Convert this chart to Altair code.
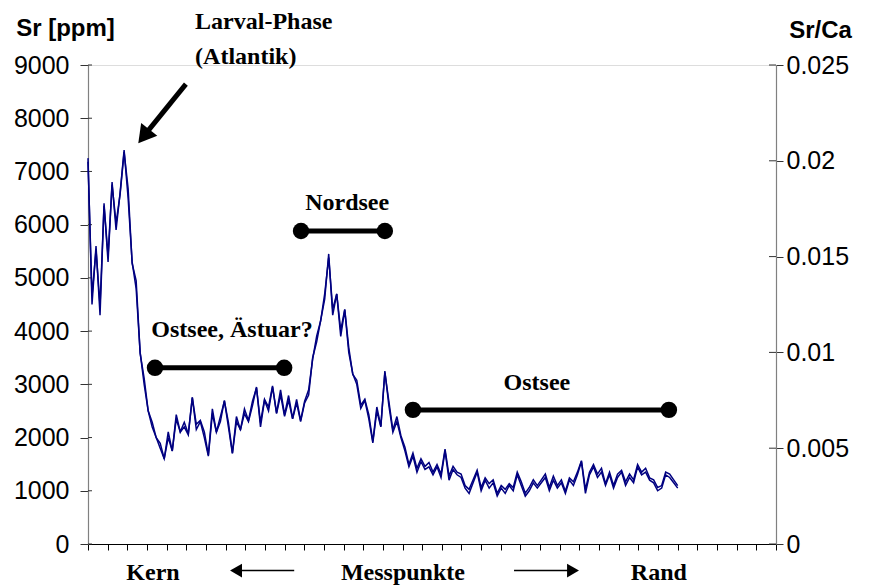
import altair as alt
import pandas as pd

# Sr concentration (ppm), left axis
sr_ppm = [
    7250, 4500, 5600, 4300, 6400, 5300, 6800, 5900, 6600, 7400,
    6500, 5300, 4800, 3600, 3000, 2500, 2200, 2000, 1800, 1600,
    2000, 1750, 2350, 2100, 2200, 2050, 2750, 2150, 2300, 2000,
    1650, 2450, 2100, 2300, 2700, 2200, 1700, 2300, 2150, 2450,
    2300, 2600, 2950, 2200, 2700, 2500, 2950, 2450, 2800, 2400,
    2700, 2350, 2650, 2300, 2650, 2800, 3500, 3800, 4200, 4600,
    5450, 4300, 4700, 3900, 4400, 3600, 3200, 3000, 2550, 2700,
    2350, 1900, 2500, 2200, 3250, 2600, 2100, 2300, 2000, 1750,
    1450, 1650, 1350, 1550, 1400, 1450, 1300, 1450, 1250, 1750,
    1200, 1400, 1300, 1250, 1050, 950, 1150, 1350, 1000, 1200,
    1050, 1150, 900, 1050, 950, 1100, 1000, 1300, 1100, 900,
    1000, 1150, 1050, 1150, 1250, 1000, 1200, 1050, 1150, 950,
    1200, 1100, 1300, 1550, 950, 1300, 1450, 1250, 1350, 1100,
    1300, 1050, 1250, 1350, 1100, 1250, 1150, 1450, 1300, 1350,
    1200, 1150, 1000, 1050, 1300, 1250, 1150, 1050,
]

# Sr/Ca ratio, right axis
sr_ca = [
    0.01995, 0.01295, 0.01535, 0.01245, 0.01765, 0.01505, 0.01875, 0.01675, 0.01825, 0.02045,
    0.01855, 0.01465, 0.01375, 0.00995, 0.00865, 0.00695, 0.00635, 0.00555, 0.00525, 0.00445,
    0.00585, 0.00485, 0.00675, 0.00585, 0.00635, 0.00575, 0.00765, 0.00625, 0.00645, 0.00585,
    0.00465, 0.00705, 0.00585, 0.00665, 0.00745, 0.00635, 0.00475, 0.00665, 0.00595, 0.00705,
    0.00645, 0.00745, 0.00815, 0.00635, 0.00755, 0.00715, 0.00825, 0.00685, 0.00805, 0.00675,
    0.00775, 0.00655, 0.00755, 0.00645, 0.00745, 0.00805, 0.00965, 0.01085, 0.01165, 0.01305,
    0.01495, 0.01225, 0.01305, 0.01115, 0.01225, 0.01025, 0.00885, 0.00855, 0.00725, 0.00755,
    0.00675, 0.00535, 0.00715, 0.00615, 0.00895, 0.00745, 0.00595, 0.00665, 0.00565, 0.00505,
    0.00415, 0.00475, 0.00395, 0.00445, 0.00405, 0.00425, 0.00375, 0.00415, 0.00365, 0.00495,
    0.00355, 0.00405, 0.00375, 0.00365, 0.00305, 0.00285, 0.00335, 0.00385, 0.00295, 0.00345,
    0.00315, 0.00335, 0.00265, 0.00305, 0.00285, 0.00315, 0.00295, 0.00375, 0.00325, 0.00265,
    0.00295, 0.00335, 0.00305, 0.00335, 0.00365, 0.00295, 0.00355, 0.00305, 0.00335, 0.00275,
    0.00345, 0.00325, 0.00375, 0.00435, 0.00285, 0.00375, 0.00415, 0.00365, 0.00395, 0.00315,
    0.00375, 0.00305, 0.00365, 0.00385, 0.00325, 0.00365, 0.00335, 0.00415, 0.00375, 0.00395,
    0.00345, 0.00335, 0.00295, 0.00305, 0.00375, 0.00365, 0.00335, 0.00305,
]

left_ticks = [0, 1000, 2000, 3000, 4000, 5000, 6000, 7000, 8000, 9000]
right_ticks = [0, 0.005, 0.01, 0.015, 0.02, 0.025]

# Annotation texts (Times bold)
ann_text = ["Larval-Phase", "(Atlantik)", "Nordsee", "Ostsee, Ästuar?", "Ostsee"]
ann_x = [26.7, 26.7, 64.6, 35.9, 111.9]
ann_y = [9800, 9150, 6410, 4020, 3030]
ann_align = ["left", "left", "center", "center", "center"]

# Bottom labels
bot_text = ["Kern", "Messpunkte", "Rand"]
bot_x = [16.2, 78.5, 142.3]
bot_y = [-540, -540, -540]

# Horizontal bars with dots
bar_x1 = [53.1, 16.7, 81.0]
bar_x2 = [74.0, 48.9, 144.8]
bar_y = [5880, 3310, 2520]

n = len(sr_ppm)
df = pd.DataFrame({"i": list(range(n)), "sr": sr_ppm, "srca": sr_ca})

X_MAX = (n - 1) * 35 / 30
x_tick_vals = [k * X_MAX / 35 for k in range(36)]
xscale = alt.Scale(domain=[0, X_MAX], nice=False, zero=False)
yscale = alt.Scale(domain=[0, 9000], nice=False)
rscale = alt.Scale(domain=[0, 0.025], nice=False)

LABEL_FONT = "Liberation Sans"
LBL_SIZE = 25

x_axis = alt.Axis(values=x_tick_vals, labels=False, title=None, grid=False,
                  tickSize=6, tickColor="black", domainColor="black",
                  domainWidth=1.2, tickWidth=1)
y_axis = alt.Axis(values=left_ticks, format="d", grid=False,
                  title="Sr [ppm]", titleAngle=0, titleX=-23, titleY=-37,
                  titleAlign="center", titleBaseline="middle",
                  titleFont=LABEL_FONT, titleFontSize=24,
                  titleFontWeight="bold", titleColor="black",
                  labelFont=LABEL_FONT, labelFontSize=LBL_SIZE,
                  labelColor="black", labelPadding=11, tickSize=8,
                  tickColor="#333333", domainColor="#808080", domainWidth=1.2)
r_axis = alt.Axis(orient="right", values=right_ticks, format="~g", grid=False,
                  title="Sr/Ca", titleAngle=0, titleX=44, titleY=-35,
                  titleAlign="center", titleBaseline="middle",
                  titleFont=LABEL_FONT, titleFontSize=24,
                  titleFontWeight="bold", titleColor="black",
                  labelFont=LABEL_FONT, labelFontSize=LBL_SIZE,
                  labelColor="black", labelPadding=3, tickSize=7,
                  tickColor="#333333", domainColor="#808080", domainWidth=1.2)


def X(field):
    return alt.X(field, scale=xscale, axis=x_axis)


def Y(field):
    return alt.Y(field, scale=yscale, axis=y_axis)


def R(field):
    return alt.Y(field, scale=rscale, axis=r_axis)


LINE_COLOR = "#000080"

left_line = alt.Chart(df).mark_line(color=LINE_COLOR, strokeWidth=1.5).encode(
    x=X("i:Q"), y=Y("sr:Q"))

ann_df = pd.DataFrame({"x": ann_x, "y": ann_y, "t": ann_text, "a": ann_align})
ann_left = alt.Chart(ann_df[ann_df.a == "left"]).mark_text(
    font="Liberation Serif", fontWeight="bold", fontSize=24, align="left",
    baseline="middle", color="black").encode(x=X("x:Q"), y=Y("y:Q"), text="t:N")
ann_center = alt.Chart(ann_df[ann_df.a == "center"]).mark_text(
    font="Liberation Serif", fontWeight="bold", fontSize=24, align="center",
    baseline="middle", color="black").encode(x=X("x:Q"), y=Y("y:Q"), text="t:N")

bot_df = pd.DataFrame({"x": bot_x, "y": bot_y, "t": bot_text})
bot = alt.Chart(bot_df).mark_text(
    font="Liberation Serif", fontWeight="bold", fontSize=24, align="center",
    baseline="middle", color="black").encode(x=X("x:Q"), y=Y("y:Q"), text="t:N")

bar_df = pd.DataFrame({"x1": bar_x1, "x2": bar_x2, "y": bar_y})
bars = alt.Chart(bar_df).mark_rule(color="black", strokeWidth=5).encode(
    x=X("x1:Q"), x2="x2:Q", y=Y("y:Q"))
dots_df = pd.DataFrame({"x": bar_x1 + bar_x2, "y": bar_y + bar_y})
dots = alt.Chart(dots_df).mark_circle(color="black", size=270, opacity=1).encode(
    x=X("x:Q"), y=Y("y:Q"))

# Arrows: shafts and heads
shaft_df = pd.DataFrame({
    "x1": [24.4, 37.9, 106.2], "x2": [14.5, 51.4, 120.2],
    "y1": [8640, -500, -500], "y2": [7720, -500, -500]})
shafts_thick = alt.Chart(shaft_df.iloc[:1]).mark_rule(color="black", strokeWidth=5).encode(
    x=X("x1:Q"), x2="x2:Q", y=Y("y1:Q"), y2="y2:Q")
shafts_thin = alt.Chart(shaft_df.iloc[1:]).mark_rule(color="black", strokeWidth=1.5).encode(
    x=X("x1:Q"), x2="x2:Q", y=Y("y1:Q"), y2="y2:Q")
head_big = alt.Chart(pd.DataFrame({"x": [13.9], "y": [7660], "ang": [218]})).mark_point(
    shape="triangle-up", filled=True, color="black", opacity=1, size=420).encode(
    x=X("x:Q"), y=Y("y:Q"), angle=alt.Angle("ang:Q", scale=None))
head_small = alt.Chart(pd.DataFrame({"x": [36.9, 120.9], "y": [-500, -500], "ang": [270, 90]})).mark_point(
    shape="triangle-up", filled=True, color="black", opacity=1, size=190).encode(
    x=X("x:Q"), y=Y("y:Q"), angle=alt.Angle("ang:Q", scale=None))

# short inner parts of the y-axis ticks (they cross the axis line)
inner_left = alt.Chart(pd.DataFrame({"v": left_ticks})).mark_rule(
    color="#333333", strokeWidth=1).encode(
    x=alt.value(0), x2=alt.value(4), y=Y("v:Q"))

left_group = alt.layer(left_line, bars, dots, ann_left, ann_center, bot,
                       shafts_thick, shafts_thin, head_big, head_small, inner_left)

right_line = alt.Chart(df).mark_line(color=LINE_COLOR, strokeWidth=1.5).encode(
    x=X("i:Q"), y=R("srca:Q"))
inner_right = alt.Chart(pd.DataFrame({"v": right_ticks})).mark_rule(
    color="#333333", strokeWidth=1).encode(
    x=alt.value(681), x2=alt.value(688), y=R("v:Q"))
right_group = alt.layer(right_line, inner_right)

chart = alt.layer(left_group, right_group).resolve_scale(y="independent").properties(
    width=688, height=479,
    autosize=alt.AutoSizeParams(type="none"),
    padding={"left": 80, "top": 57, "right": 80, "bottom": 42},
).configure_view(stroke=None).configure(background="white")

chart.save("out.html", embed_options={"renderer": "svg", "actions": False})
